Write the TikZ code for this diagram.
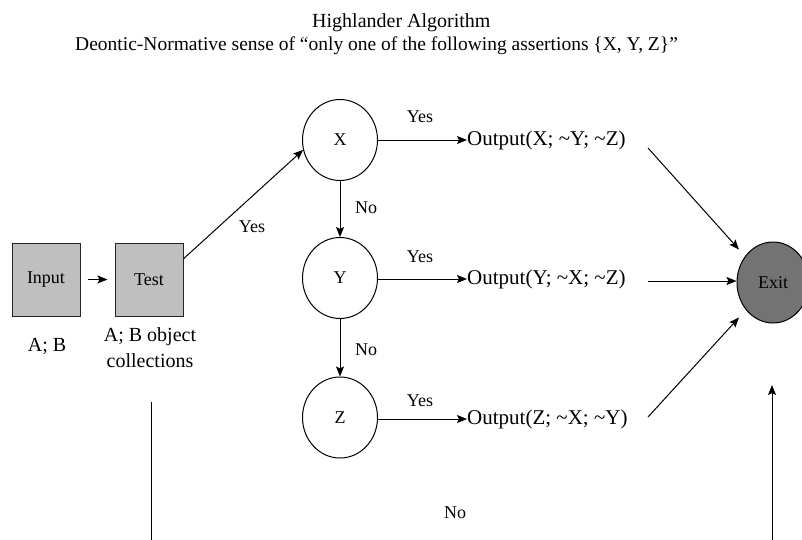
\documentclass[tikz,border=0pt]{standalone}
\usepackage{fontspec}
\setmainfont{Liberation Serif}
\usetikzlibrary{shapes.geometric,arrows.meta,calc}

\definecolor{boxgrey}{RGB}{191,191,191}
\definecolor{exitgrey}{RGB}{115,115,115}

\tikzset{
  tip/.style={-{Stealth[length=10pt,width=8pt,inset=2pt]}},
  conn/.style={line width=1pt, tip},
  plain/.style={line width=1pt},
  stepbox/.style={draw=black!85, line width=1pt, fill=boxgrey, minimum width=68pt,
    minimum height=73pt, inner sep=0pt, font=\fontsize{18}{20}\selectfont},
  test/.style={draw, ellipse, line width=1pt, minimum width=75pt, minimum height=81pt,
    inner sep=0pt, font=\fontsize{18}{20}\selectfont},
  outtxt/.style={anchor=west, inner sep=0pt, font=\fontsize{21}{24}\selectfont},
  lbl/.style={inner sep=0pt, font=\fontsize{18}{20}\selectfont},
  ttl/.style={anchor=base west, inner sep=0pt, font=\fontsize{20}{24}\selectfont}
}

\begin{document}
\begin{tikzpicture}[x=1pt, y=-1pt]
  \useasboundingbox (0,0) rectangle (802,539);
  \clip (0,0) rectangle (802,539);

  % heading
  \node[ttl] (title1) at (312,27) {Highlander Algorithm};
  \node[ttl, font=\fontsize{19.5}{24}\selectfont] (title2) at (75,50) {Deontic-Normative sense of “only one of the following assertions \{X, Y, Z\}”};

  % input and test boxes
  \node[stepbox] (input) at (46,279.5) {Input};
  \node[stepbox] (testbox) at (149,279.5) {Test};
  \node[lbl, font=\fontsize{20}{24}\selectfont] (inlbl) at (47,346) {A; B};
  \node[lbl, align=center, font=\fontsize{20}{26}\selectfont] (testlbl) at (150,348) {A; B object\\collections};

  % decision nodes
  \node[test] (x) at (340,140) {X};
  \node[test] (y) at (340,278) {Y};
  \node[test] (z) at (340,417.5) {Z};

  % outputs
  \node[outtxt] (ox) at (467,140) {Output(X; \textasciitilde Y; \textasciitilde Z)};
  \node[outtxt] (oy) at (467,279) {Output(Y; \textasciitilde X; \textasciitilde Z)};
  \node[outtxt] (oz) at (467,419) {Output(Z; \textasciitilde X; \textasciitilde Y)};

  % exit
  \node[draw, ellipse, line width=1pt, fill=exitgrey, minimum width=72pt, minimum height=81pt,
    inner sep=0pt, font=\fontsize{18}{20}\selectfont] (exit) at (773,282.5) {Exit};

  % free ends of connectors
  \coordinate (ax) at (648,148);
  \coordinate (ay) at (648,281);
  \coordinate (az) at (648,417);
  \coordinate (lowleft) at (151,402);
  \coordinate (lowleftend) at (151,545);
  \coordinate (lowright) at (772,545);
  \coordinate (lowrighttip) at (772,385);

  % connectors
  \draw[conn, shorten <=7pt, shorten >=7pt] (input) -- (testbox);
  \draw[conn] (testbox.31) -- (x.195);
  \draw[conn] (x) -- (y);
  \draw[conn] (y) -- (z);
  \draw[conn] (x.east) -- (ox.west);
  \draw[conn] (y.east |- oy.west) -- (oy.west);
  \draw[conn] (z.east |- oz.west) -- (oz.west);
  \draw[conn] (ax) -- ([shift={(-34,-33)}]exit.center);
  \draw[conn] (ay) -- ([shift={(0,-1.5)}]exit.west);
  \draw[conn] (az) -- ([shift={(-34,35)}]exit.center);
  \draw[plain] (lowleft) -- (lowleftend);
  \draw[conn] (lowright) -- (lowrighttip);

  % labels
  \node[lbl] (yes0) at (252,227) {Yes};
  \node[lbl] (yes1) at (420,117) {Yes};
  \node[lbl] (yes2) at (420,257) {Yes};
  \node[lbl] (yes3) at (420,401) {Yes};
  \node[lbl] (no1) at (366,208) {No};
  \node[lbl] (no2) at (366,350) {No};
  \node[lbl] (no3) at (455,513) {No};
\end{tikzpicture}
\end{document}
